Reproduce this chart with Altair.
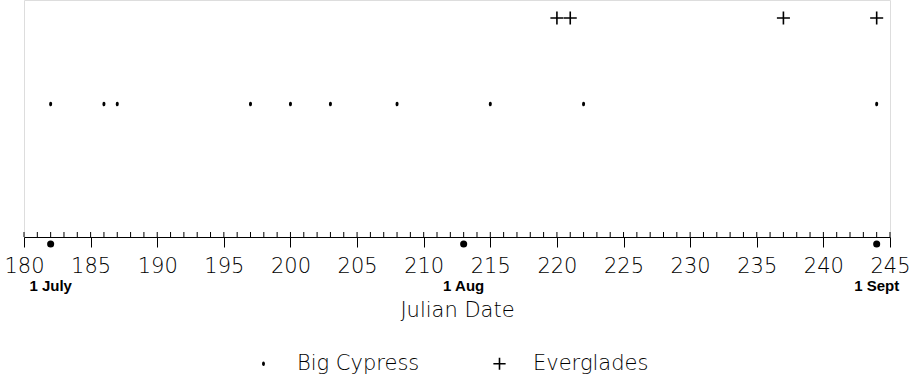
import altair as alt
import pandas as pd

# Sighting days (Julian date) for each site
big_cypress_days = [182, 186, 187, 197, 200, 203, 208, 215, 222, 244]
everglades_days = [220, 221, 237, 244]

# Calendar reference points on the Julian axis
month_days = [182, 213, 244]
month_labels = ["1 July", "1 Aug", "1 Sept"]

# Axis ticks: one minor tick per day, labelled every five days
axis_days = list(range(180, 246))
label_days = list(range(180, 246, 5))

sites = ["Big Cypress", "Everglades"]

FONT = "DejaVu Sans"
LIGHT = 200

obs = pd.DataFrame(
    {"day": big_cypress_days + everglades_days,
     "site": ["Big Cypress"] * len(big_cypress_days) + ["Everglades"] * len(everglades_days)}
)
ticks = pd.DataFrame({"day": axis_days})
months = pd.DataFrame({"day": month_days, "label": month_labels})

x_scale = alt.Scale(domain=[180, 245], nice=False, zero=False)

# small upright dot (stroke closes it up) and a thin plus
dot_path = "M-0.11,0A0.11,0.24 0 1,0 0.11,0A0.11,0.24 0 1,0 -0.11,0Z"
plus_path = "M-1,0H1M0,-1V1"

x_axis = alt.Axis(
    values=label_days,
    tickSize=10,
    tickColor="black",
    tickWidth=1,
    domainColor="black",
    domainWidth=1,
    grid=False,
    labelFont=FONT,
    labelFontWeight=LIGHT,
    labelFontSize=21,
    labelColor="black",
    labelPadding=8,
    labelOverlap=False,
    labelFlush=False,
    title="Julian Date",
    titleFont=FONT,
    titleFontWeight=LIGHT,
    titleFontSize=21,
    titleColor="black",
    titlePadding=23,
)

points = alt.Chart(obs).mark_point(
    filled=False, color="black", strokeWidth=1.6, size=170, opacity=1
).encode(
    x=alt.X("day:Q", scale=x_scale, axis=x_axis),
    y=alt.Y(
        "site:N",
        scale=alt.Scale(type="point", domain=["Everglades", "Big Cypress"], range=[18, 104], padding=0),
        axis=None,
    ),
    shape=alt.Shape(
        "site:N",
        scale=alt.Scale(domain=sites, range=[dot_path, plus_path]),
        legend=alt.Legend(
            title=None,
            orient="none",
            legendX=229,
            legendY=353,
            direction="horizontal",
            symbolSize=150,
            symbolStrokeColor="black",
            symbolStrokeWidth=1.6,
            symbolFillColor="transparent",
            labelFont=FONT,
            labelFontWeight=LIGHT,
            labelFontSize=21,
            labelColor="black",
            labelOffset=23,
            columnPadding=69,
        ),
    ),
)

day_ticks = alt.Chart(ticks).mark_rule(color="black", strokeWidth=1).encode(
    x=alt.X("day:Q", scale=x_scale),
    y=alt.value(232),
    y2=alt.value(237),
)

month_dots = alt.Chart(months).mark_circle(color="black", size=50, opacity=1).encode(
    x=alt.X("day:Q", scale=x_scale),
    y=alt.value(244),
)

month_text = alt.Chart(months).mark_text(
    font="Liberation Sans", fontWeight="bold", fontSize=15, color="black", baseline="middle"
).encode(
    x=alt.X("day:Q", scale=x_scale),
    y=alt.value(286),
    text="label:N",
)

chart = (
    alt.layer(day_ticks, month_dots, month_text, points)
    .properties(
        width=866,
        height=237,
        autosize="none",
        padding={"left": 24, "top": 0, "right": 27, "bottom": 146},
    )
    .configure_view(stroke=None, strokeWidth=0, strokeOpacity=0, fill="white")
    .configure_axis(grid=False)
    .configure_axisY(domain=False, ticks=False, labels=False, grid=False)
    .configure(background="white")
)

chart.save("out.html", embed_options={"renderer": "svg", "actions": False})
